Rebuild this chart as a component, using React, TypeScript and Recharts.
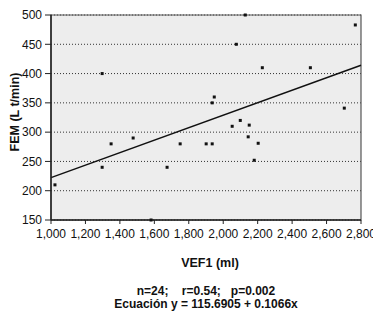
import React from "react";
import {
  ScatterChart,
  Scatter,
  XAxis,
  YAxis,
  CartesianGrid,
  ReferenceLine,
  ReferenceArea,
} from "recharts";

const vef1 = [1023, 1297, 1349, 1297, 1477, 1581, 1674, 1750, 1901, 1936, 1936, 1948, 2052, 2099, 2151, 2145, 2203, 2180, 2076, 2128, 2227, 2506, 2703, 2767];
const fem = [210, 240, 280, 400, 290, 150, 240, 280, 280, 280, 350, 360, 310, 320, 312, 292, 281, 252, 450, 500, 410, 410, 341, 483];
const xTicks = [1000, 1200, 1400, 1600, 1800, 2000, 2200, 2400, 2600, 2800];
const yTicks = [150, 200, 250, 300, 350, 400, 450, 500];
const intercept = 115.6905;
const slope = 0.1066;
const statsText = "n=24;    r=0.54;   p=0.002";
const equationText = "Ecuación y = 115.6905 + 0.1066x";
const xLabel = "VEF1 (ml)";
const yLabel = "FEM (L t/min)";

const points = vef1.map((x, i) => ({ x, y: fem[i] }));
const xMin = xTicks[0];
const xMax = xTicks[xTicks.length - 1];

const fmt = (v: number) => v.toLocaleString("en-US");

const Square = (props: any) => {
  const { cx, cy } = props;
  if (cx == null || cy == null) return null;
  return <rect x={cx - 1.5} y={cy - 1.5} width={3} height={3} fill="#111" />;
};

const font = "'Liberation Sans', Arial, sans-serif";

export default function App() {
  return (
    <div style={{ position: "absolute", left: 0, top: 0, width: 373, height: 324, background: "#fff", fontFamily: font }}>
      <ScatterChart width={373} height={324} margin={{ top: 15, right: 12, left: 0, bottom: 84 }}>
        <CartesianGrid
          horizontal={true}
          vertical={false}
          stroke="#333"
          strokeDasharray="1 2"
          fill="#ededed"
          fillOpacity={1}
        />
        <XAxis
          type="number"
          dataKey="x"
          domain={[xMin, xMax]}
          ticks={xTicks}
          tickFormatter={fmt}
          height={20}
          axisLine={{ stroke: "#222", strokeWidth: 1.5 }}
          tickLine={{ stroke: "#222" }}
          tickSize={4}
          tickMargin={5}
          tick={{ fill: "#111", fontSize: 12, fontFamily: font }}
          interval={0}
        />
        <YAxis
          type="number"
          dataKey="y"
          domain={[150, 500]}
          ticks={yTicks}
          width={51}
          axisLine={{ stroke: "#222", strokeWidth: 1.5 }}
          tickLine={{ stroke: "#222" }}
          tickSize={6}
          tickMargin={3}
          tick={{ fill: "#111", fontSize: 12, fontFamily: font }}
          interval={0}
        />
        <ReferenceArea x1={xMin} x2={xMax} y1={150} y2={500} fill="none" stroke="#555" strokeWidth={1.2} />
        <ReferenceLine
          segment={[
            { x: xMin, y: intercept + slope * xMin },
            { x: xMax, y: intercept + slope * xMax },
          ]}
          stroke="#111"
          strokeWidth={1.5}
        />
        <Scatter data={points} shape={<Square />} isAnimationActive={false} />
      </ScatterChart>
      <div
        style={{
          position: "absolute",
          left: 15,
          top: 112,
          transform: "translate(-50%, -50%) rotate(-90deg)",
          fontSize: 12.5,
          fontWeight: "bold",
          whiteSpace: "nowrap",
          color: "#111",
        }}
      >
        {yLabel}
      </div>
      <div style={{ position: "absolute", left: 0, width: 420, top: 256, lineHeight: "15px", textAlign: "center", fontSize: 12.5, fontWeight: "bold", color: "#111" }}>
        {xLabel}
      </div>
      <div style={{ position: "absolute", left: 0, width: 412, top: 285, lineHeight: "13px", textAlign: "center", fontSize: 12, fontWeight: "bold", color: "#111", whiteSpace: "pre" }}>
        {statsText}
      </div>
      <div style={{ position: "absolute", left: 0, width: 412, top: 298, lineHeight: "13px", textAlign: "center", fontSize: 12, fontWeight: "bold", color: "#111" }}>
        {equationText}
      </div>
    </div>
  );
}
